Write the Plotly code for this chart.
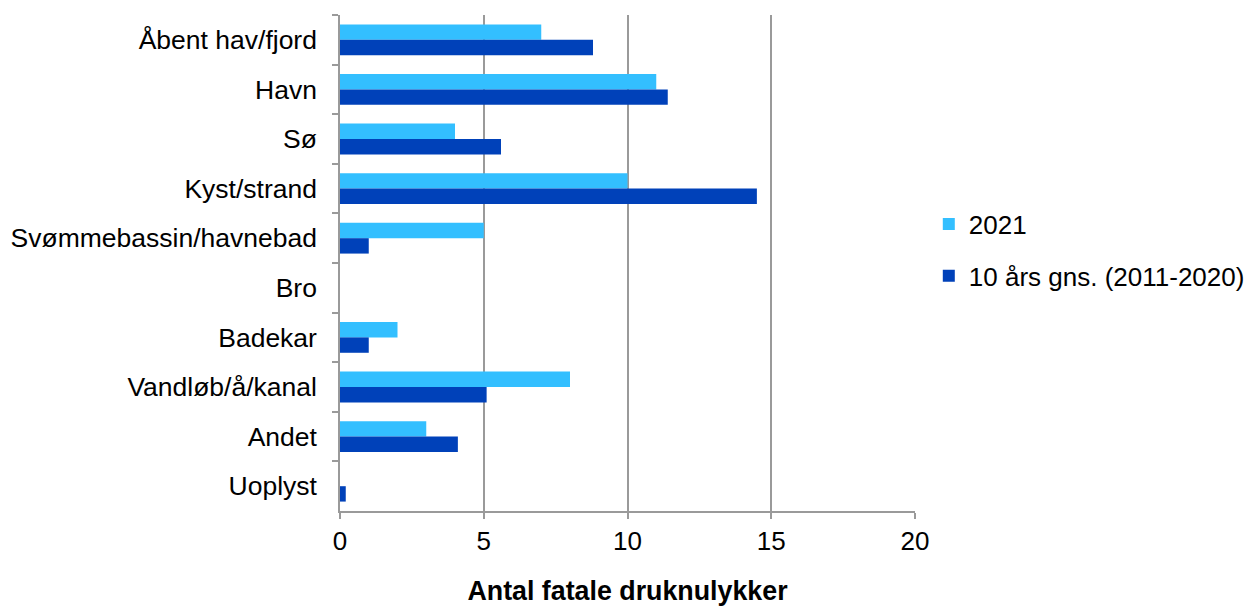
import plotly.graph_objects as go

categories = ["Åbent hav/fjord", "Havn", "Sø", "Kyst/strand", "Svømmebassin/havnebad",
              "Bro", "Badekar", "Vandløb/å/kanal", "Andet", "Uoplyst"]
values_2021 = [7, 11, 4, 10, 5, 0, 2, 8, 3, 0]
values_avg = [8.8, 11.4, 5.6, 14.5, 1.0, 0, 1.0, 5.1, 4.1, 0.2]
x_ticks = [0, 5, 10, 15, 20]

fig = go.Figure()
fig.add_trace(go.Bar(y=categories, x=values_2021, orientation="h", name="2021",
                     marker=dict(color="#33BFFF", line=dict(width=0)), legendgroup="a"))
fig.add_trace(go.Bar(y=categories, x=values_avg, orientation="h", name="10 års gns. (2011-2020)",
                     marker=dict(color="#0041B9", line=dict(width=0)), legendgroup="b"))

font = "Liberation Sans, Arial, sans-serif"
fig.update_layout(
    width=1259, height=606,
    margin=dict(l=332, r=352, t=7, b=103, autoexpand=False),
    paper_bgcolor="white", plot_bgcolor="white",
    barmode="group", bargap=0.38, bargroupgap=0.0,
    font=dict(family=font, size=26, color="black"),
    legend=dict(x=1.024, xanchor="left", y=0.526, yanchor="middle", xref="paper",
                font=dict(size=26), tracegroupgap=15, traceorder="grouped",
                itemwidth=30, bgcolor="rgba(0,0,0,0)"),
    showlegend=True,
)
fig.update_xaxes(range=[0, 20], tickvals=x_ticks, ticktext=[str(v) for v in x_ticks],
                 showgrid=True, gridcolor="#9a9a9a", gridwidth=1.5,
                 showline=True, linecolor="#9a9a9a", linewidth=1.5,
                 ticks="outside", ticklen=6, tickcolor="#9a9a9a", tickwidth=1.5,
                 zeroline=False, tickfont=dict(size=26), automargin=False,
                 title=dict(text="<b>Antal fatale druknulykker</b>", font=dict(size=26.8), standoff=26))
fig.update_yaxes(autorange="reversed", showgrid=False,
                 showline=True, linecolor="#9a9a9a", linewidth=1.5,
                 ticks="outside", ticklen=6, tickcolor="#9a9a9a", tickwidth=1.5,
                 tickson="boundaries", tickfont=dict(size=26.5), ticklabelstandoff=16,
                 automargin=False)

fig.write_html("out.html")
